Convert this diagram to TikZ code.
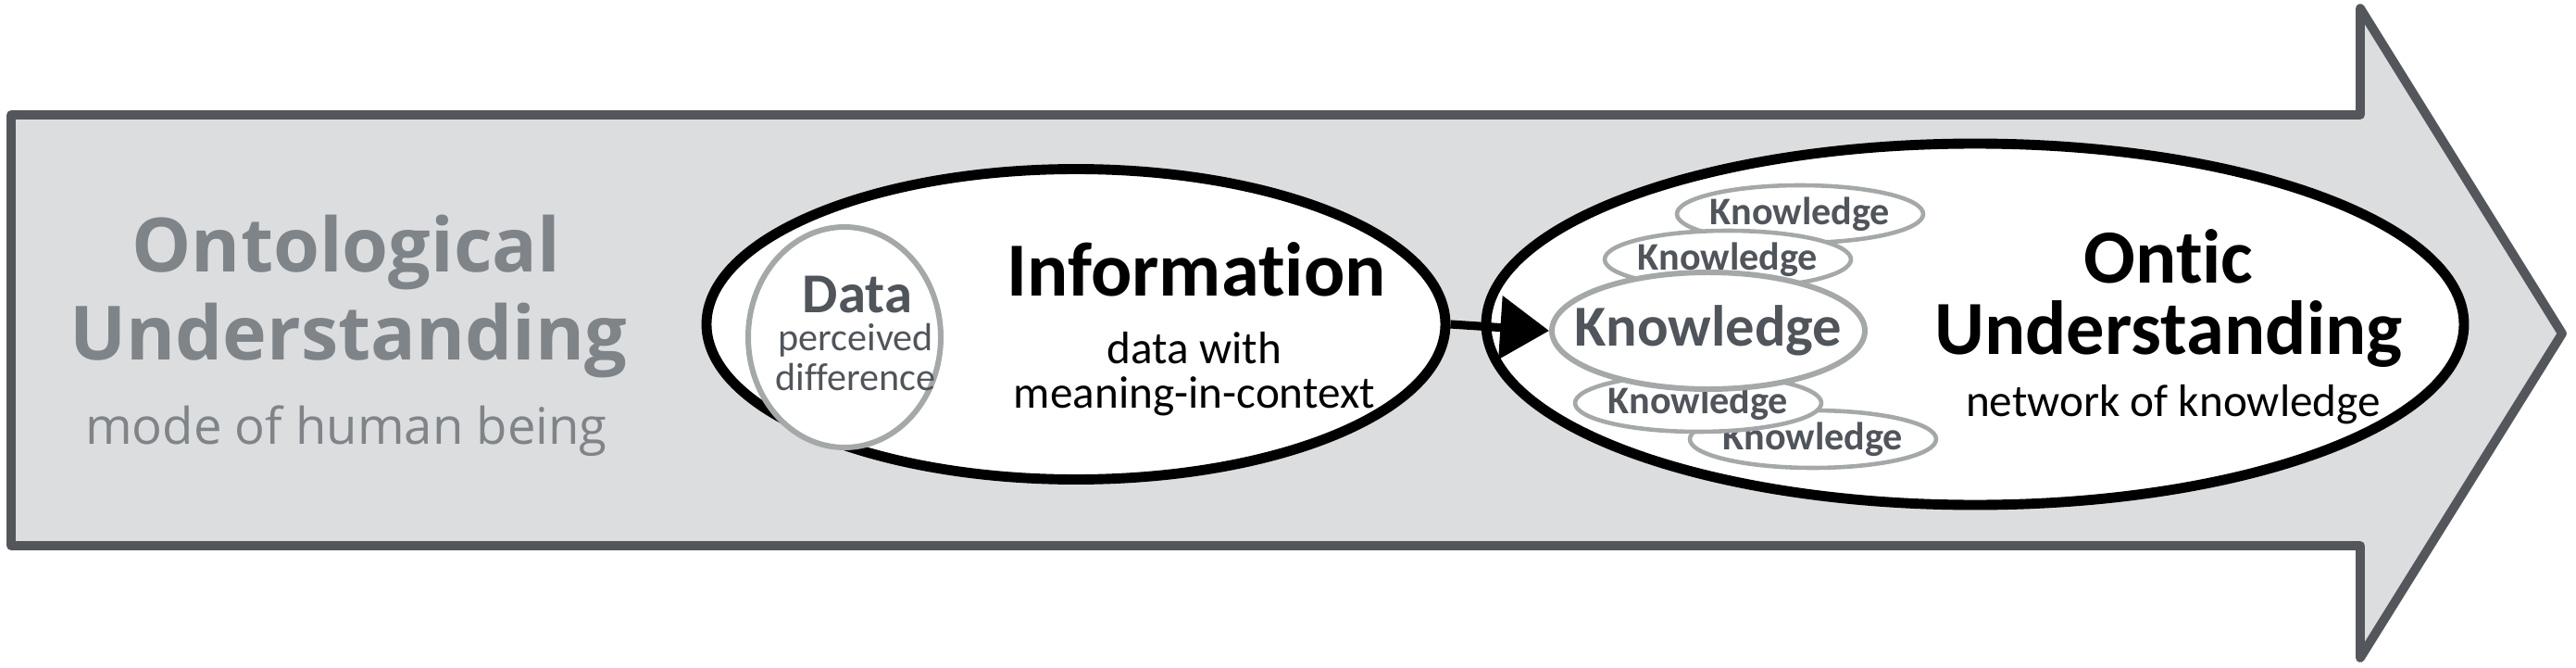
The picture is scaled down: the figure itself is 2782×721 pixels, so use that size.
\documentclass[tikz,border=0pt]{standalone}
\usepackage{fontspec}
\setmainfont{Carlito}[Ligatures=NoCommon]
\newfontfamily\opensans{Open Sans}
\usetikzlibrary{arrows.meta,positioning,calc,shapes.geometric}
\definecolor{arrowfill}{HTML}{DCDDDF}
\definecolor{arrowline}{HTML}{53575C}
\definecolor{softgray}{HTML}{7F8488}
\definecolor{darkgray}{HTML}{50555B}
\definecolor{ringgray}{HTML}{A5A8A8}
\tikzset{
  bigarrow/.style={draw=arrowline,fill=arrowfill,line width=2.8pt,line join=round},
  stage/.style={ellipse,draw=black,fill=white,line width=3.1pt,inner sep=0pt},
  ring/.style={ellipse,draw=ringgray,fill=white,line width=1.7pt,inner sep=0pt},
  knowring/.style={ellipse,draw=ringgray,fill=white,line width=1.3pt,inner sep=0pt,
    minimum width=26.6mm,minimum height=6.2mm,
    label={[text=darkgray,font=\bfseries\fontsize{12}{12}\selectfont]center:Knowledge}},
  title/.style={anchor=base,font=\bfseries\fontsize{23.5}{24}\selectfont},
  subtitle/.style={anchor=base,font=\fontsize{14}{15}\selectfont},
  lefttitle/.style={anchor=base,text=softgray,font=\opensans\bfseries\fontsize{23}{24}\selectfont},
  leftsub/.style={anchor=base,text=softgray,font=\opensans\fontsize{15.5}{16}\selectfont},
  datatext/.style={anchor=base,text=darkgray,inner sep=1pt,font=\fontsize{12}{12}\selectfont},
  link/.style={-{Triangle[length=15pt,width=19pt]},line width=2.6pt}
}

\begin{document}
\begin{tikzpicture}[x=0.1mm,y=-0.1mm]
\useasboundingbox (0,0) rectangle (2782,721);

% the big arrow
\draw[bigarrow] (12,124) -- (2549,124) -- (2549,9) -- (2767,360)
  -- (2549,710) -- (2549,589) -- (12,589) -- cycle;

\node[lefttitle] (ontological) at (374,293) {Ontological};
\node[lefttitle] (understanding) at (376,388) {Understanding};
\node[leftsub] (mode) at (374,479) {mode of human being};

% information
\node[stage,minimum width=79.8mm,minimum height=33.5mm] (info) at (1162,350) {};
\node[ring,minimum width=20.8mm,minimum height=23.8mm] (data) at (912,364) {};
\node[anchor=base,inner sep=1pt,text=darkgray,font=\bfseries\fontsize{17.3}{18}\selectfont]
  (datatitle) at (926,337) {Data};
\node[datatext] (perceived) at (924,378) {perceived};
\node[datatext] (difference) at (924,421) {difference};
\node[title] (information) at (1292,319) {Information};
\node[subtitle] (datawith) at (1290,392) {data with};
\node[subtitle] (meaning) at (1290,440) {meaning-in-context};

% ontic understanding
\node[stage,minimum width=105.6mm,minimum height=39mm] (ontic) at (2133,350) {};
\node[knowring] (k1) at (1944,231) {};
\node[knowring] (k2) at (1866,280) {};
\node[knowring] (k5) at (1958,474) {};
\node[knowring] (k4) at (1834,435) {};
\node[ring,minimum width=33.8mm,minimum height=12.6mm,
  label={[text=darkgray,font=\bfseries\fontsize{17.8}{18}\selectfont]center:Knowledge}]
  (k3) at (1845,357) {};
\node[title] (onticword) at (2342,305) {Ontic};
\node[title] (onticunder) at (2342,382) {Understanding};
\node[subtitle] (network) at (2347,449) {network of knowledge};

\draw[link] (info.east) -- (k3.west);
\end{tikzpicture}
\end{document}
